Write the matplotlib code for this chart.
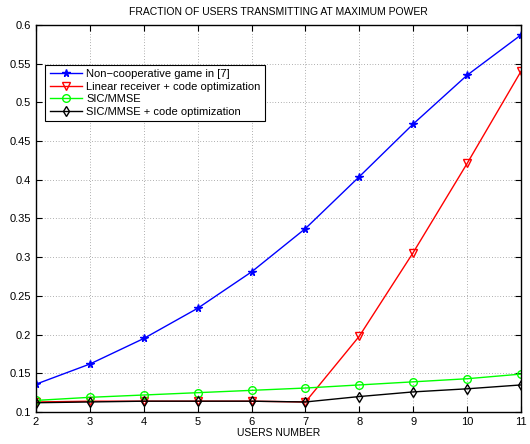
import matplotlib
matplotlib.use("Agg")
import matplotlib.pyplot as plt

plt.rcParams['font.family'] = ['Liberation Sans', 'DejaVu Sans']

users = [2, 3, 4, 5, 6, 7, 8, 9, 10, 11]
noncoop = [0.136, 0.162, 0.195, 0.234, 0.281, 0.337, 0.404, 0.472, 0.535, 0.587]
linear_opt = [0.113, 0.114, 0.114, 0.114, 0.114, 0.113, 0.198, 0.306, 0.421, 0.540]
sic_mmse = [0.115, 0.119, 0.122, 0.125, 0.128, 0.131, 0.135, 0.139, 0.143, 0.149]
sic_mmse_opt = [0.112, 0.113, 0.114, 0.114, 0.114, 0.113, 0.120, 0.126, 0.130, 0.135]

labels = ["Non\u2212cooperative game in [7]",
          "Linear receiver + code optimization",
          "SIC/MMSE",
          "SIC/MMSE + code optimization"]
xticks = [2, 3, 4, 5, 6, 7, 8, 9, 10, 11]
yticks = [0.1, 0.15, 0.2, 0.25, 0.3, 0.35, 0.4, 0.45, 0.5, 0.55, 0.6]

fig = plt.figure(figsize=(5.3, 4.44), dpi=100)
ax = fig.add_axes([0.068, 0.072, 0.915, 0.872])

ax.plot(users, noncoop, color='blue', marker='*', markersize=5.5, lw=1, label=labels[0])
ax.plot(users, linear_opt, color='red', marker='v', markersize=5.5, mfc='none', lw=1, label=labels[1])
ax.plot(users, sic_mmse, color='#00ff00', marker='o', markersize=5.5, mfc='none', lw=1, label=labels[2])
ax.plot(users, sic_mmse_opt, color='black', marker='d', markersize=5.5, mfc='none', lw=1, label=labels[3])

ax.set_xlim(2, 11)
ax.set_ylim(0.1, 0.6)
ax.set_xticks(xticks)
ax.set_xticklabels([str(v) for v in xticks])
ax.set_yticks(yticks)
ax.set_yticklabels([f"{v:g}" for v in yticks])
ax.tick_params(direction='in', top=True, right=True, labelsize=8, length=4, width=0.8)
ax.grid(True, linestyle=(0, (1, 3)), color='#666666', linewidth=0.5)
for s in ax.spines.values():
    s.set_linewidth(1.0)

ax.set_title("FRACTION OF USERS TRANSMITTING AT MAXIMUM POWER", fontsize=7.5, pad=7)
ax.set_xlabel("USERS NUMBER", fontsize=7.5, labelpad=1)

leg = ax.legend(loc='upper left', bbox_to_anchor=(0.0186, 0.897), fontsize=8,
                frameon=True, fancybox=False, edgecolor='black', framealpha=1,
                handlelength=2.9, borderpad=0.4, labelspacing=0.22, handletextpad=0.4,
                borderaxespad=0)
leg.get_frame().set_linewidth(0.8)

fig.savefig("out.png", dpi=100)
